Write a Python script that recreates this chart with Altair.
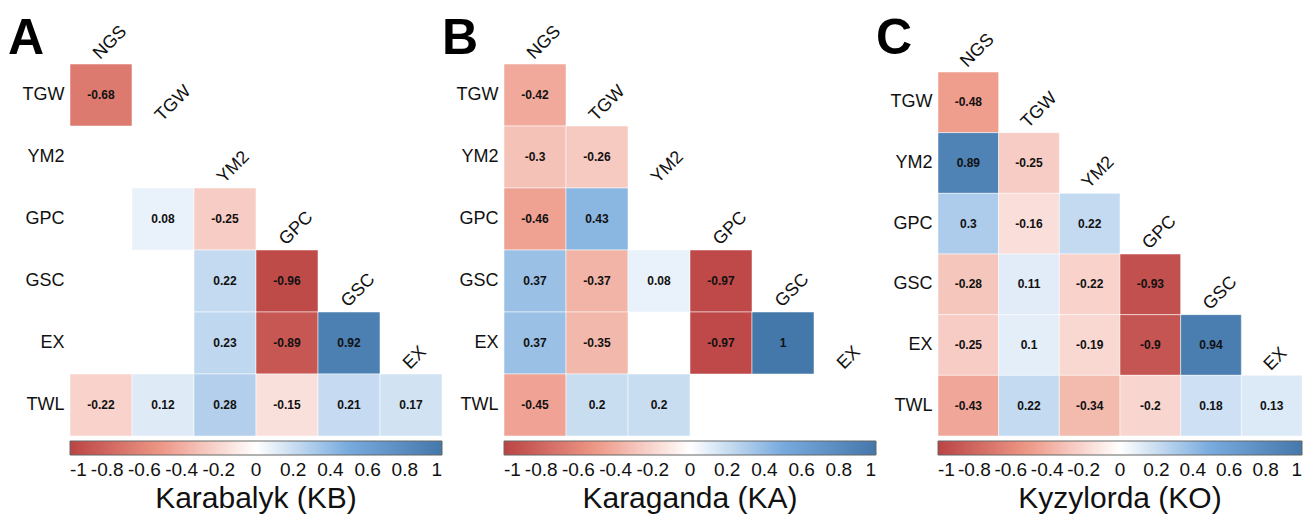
import math
import altair as alt
import pandas as pd

COLS = ["NGS", "TGW", "YM2", "GPC", "GSC", "EX"]
ROWS = ["TGW", "YM2", "GPC", "GSC", "EX", "TWL"]

# lower-triangular correlation values (None = blank cell)
KB = [
    [-0.68],
    [None, None],
    [None, 0.08, -0.25],
    [None, None, 0.22, -0.96],
    [None, None, 0.23, -0.89, 0.92],
    [-0.22, 0.12, 0.28, -0.15, 0.21, 0.17],
]
KA = [
    [-0.42],
    [-0.3, -0.26],
    [-0.46, 0.43, None],
    [0.37, -0.37, 0.08, -0.97],
    [0.37, -0.35, None, -0.97, 1],
    [-0.45, 0.2, 0.2, None, None, None],
]
KO = [
    [-0.48],
    [0.89, -0.25],
    [0.3, -0.16, 0.22],
    [-0.28, 0.11, -0.22, -0.93],
    [-0.25, 0.1, -0.19, -0.9, 0.94],
    [-0.43, 0.22, -0.34, -0.2, 0.18, 0.13],
]
TITLES = ["Karabalyk (KB)", "Karaganda (KA)", "Kyzylorda (KO)"]
LETTERS = ["A", "B", "C"]
LEGEND_TICKS = [-1, -0.8, -0.6, -0.4, -0.2, 0, 0.2, 0.4, 0.6, 0.8, 1]
PAL_STOPS = [-1, -0.5, 0, 0.5, 1]
PALETTE = ["#BB4444", "#EE9988", "#FFFFFF", "#77AADD", "#4477AA"]

FONT = "Liberation Sans"
INK = "#111111"


def cells(matrix):
    recs = []
    for i, row in enumerate(matrix):
        for j, v in enumerate(row):
            if v is None:
                continue
            recs.append({"row": ROWS[i], "col": COLS[j], "value": v, "label": str(v)})
    return pd.DataFrame(recs)


def rotated_offset(sx, sy, angle_deg=315):
    # dx/dy of a rotated text mark are applied in the rotated frame
    a = math.radians(-angle_deg)
    return (sx * math.cos(a) - sy * math.sin(a), sx * math.sin(a) + sy * math.cos(a))


def panel(matrix, title, letter, w, h, yrange=None):
    df = cells(matrix)
    if yrange is None:
        cell_h = h / 6
        yscale = alt.Scale(domain=ROWS)
    else:
        cell_h = (yrange[1] - yrange[0]) / 6
        yscale = alt.Scale(domain=ROWS, range=yrange)
    xs = alt.X("col:N", scale=alt.Scale(domain=COLS), axis=None)
    ys = alt.Y(
        "row:N",
        scale=yscale,
        axis=alt.Axis(
            title=None, labelFontSize=18, labelFont=FONT, labelColor=INK,
            ticks=False, domain=False, labelPadding=6, grid=False,
        ),
    )
    legend = alt.Legend(
        orient="none", legendX=0, legendY=h + 5, direction="horizontal",
        gradientLength=w, gradientThickness=14,
        gradientStrokeColor="#666666", gradientStrokeWidth=1,
        values=LEGEND_TICKS, labelExpr="toString(datum.value)",
        labelFontSize=19, labelFont=FONT, labelColor=INK, labelOffset=6,
        labelAlign="center", labelOverlap=False,
        title=title, titleOrient="bottom", titleAnchor="middle",
        titleFontSize=30, titleFontWeight="normal", titleFont=FONT,
        titleColor=INK, titlePadding=4, titleLimit=500, padding=0,
    )
    rect = alt.Chart(df).mark_rect(
        stroke="white", strokeWidth=1, strokeOpacity=0.5
    ).encode(
        x=xs, y=ys,
        color=alt.Color(
            "value:Q",
            scale=alt.Scale(domain=PAL_STOPS, range=PALETTE, interpolate="rgb"),
            legend=legend,
        ),
    )
    txt = alt.Chart(df).mark_text(
        font=FONT, fontSize=12, fontWeight="bold", color=INK
    ).encode(x=xs, y=ys, text="label:N")
    lab = pd.DataFrame({"col": COLS, "row": ROWS})
    ddx, ddy = rotated_offset(-1, -(cell_h / 2 + 4))
    coltxt = alt.Chart(lab).mark_text(
        angle=315, align="left", baseline="alphabetic", fontSize=18, font=FONT,
        dx=ddx, dy=ddy, color=INK,
    ).encode(x=xs, y=ys, text="col:N")
    letter_ch = alt.Chart(pd.DataFrame({"t": [letter]})).mark_text(
        font=FONT, fontSize=50, fontWeight="bold", align="left",
        baseline="top", color="black",
    ).encode(x=alt.value(-62), y=alt.value(-50), text="t:N")
    return alt.layer(rect, txt, coltxt, letter_ch).properties(width=w, height=h)


pA = panel(KB, TITLES[0], LETTERS[0], 372, 372)
pB = panel(KA, TITLES[1], LETTERS[1], 372, 372)
pC = panel(KO, TITLES[2], LETTERS[2], 364, 372, yrange=[8, 372])

chart = (
    alt.hconcat(pA, pB, pC, spacing=62, bounds="flush")
    .resolve_scale(color="independent")
    .properties(padding={"left": 0, "top": 6, "right": 0, "bottom": 0})
    .configure_view(stroke=None)
)
chart.save("out.html", embed_options={"renderer": "svg", "actions": False})
